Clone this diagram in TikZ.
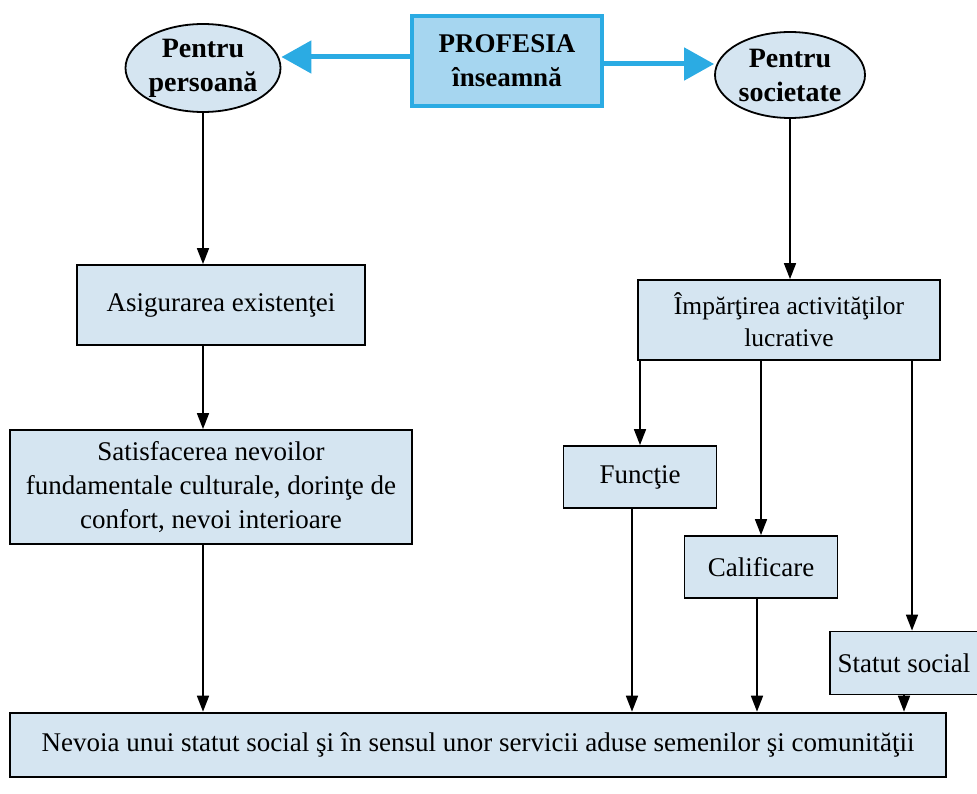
\documentclass[tikz,border=0pt]{standalone}
\usepackage{fontspec}
\setmainfont{Liberation Serif}
\usetikzlibrary{arrows.meta,shapes.geometric}
\definecolor{boxfill}{HTML}{D5E5F1}
\definecolor{profill}{HTML}{A6D6F0}
\definecolor{proline}{HTML}{2BABE3}
\begin{document}
\begin{tikzpicture}[x=1pt,y=-1pt,
  box/.style={draw=black,line width=1.8pt,fill=boxfill,align=center,inner sep=2pt,font=\fontsize{27}{34}\selectfont},
  ell/.style={ellipse,draw=black,line width=1.8pt,fill=boxfill,align=center,inner sep=0pt,font=\bfseries\fontsize{28}{34}\selectfont},
  arr/.style={line width=1.7pt,-{Triangle[length=16pt,width=12pt]}},
  carr/.style={line width=5pt,draw=proline,-{Triangle[length=30pt,width=32pt]}}]
\useasboundingbox (0,0) rectangle (977,794);
\node[ell,minimum width=155pt,minimum height=88pt] (pp) at (203,68) {Pentru\\persoană};
\node[draw=proline,line width=4.5pt,fill=profill,align=center,minimum width=190pt,minimum height=90pt,font=\bfseries\fontsize{27}{34}\selectfont] (prof) at (507,61) {PROFESIA\\înseamnă};
\node[ell,minimum width=150pt,minimum height=86pt] (ps) at (790,75) {Pentru\\societate};
\node[box,minimum width=288pt,minimum height=80pt] (asig) at (221,305) {Asigurarea existenţei};
\node[box,minimum width=402pt,minimum height=114pt] (sat) at (211,487) {Satisfacerea nevoilor\\fundamentale culturale, dorinţe de\\confort, nevoi interioare};
\node[box,minimum width=302pt,minimum height=80pt,font=\fontsize{25.5}{32}\selectfont] (imp) at (789,320) {Împărţirea activităţilor\\lucrative};
\node[box,minimum width=153pt,minimum height=62pt] (fun) at (640,477) {Funcţie};
\node[box,minimum width=153pt,minimum height=62pt] (cal) at (761,567) {Calificare};
\node[box,minimum width=148pt,minimum height=63pt] (sta) at (904,663) {Statut social};
\node[box,line width=2.6pt,minimum width=936pt,minimum height=64pt] (bot) at (478,745) {Nevoia unui statut social şi în sensul unor servicii aduse semenilor şi comunităţii};
% cyan arrows
\draw[carr] ([yshift=4pt]prof.west) -- ([yshift=4pt]pp.east |- prof.west);
\draw[carr] ([yshift=-3pt]prof.east) -- ([yshift=-3pt]ps.west |- prof.east);
% left column
\draw[arr] (pp.south) -- (asig.north -| pp.south);
\draw[arr] (asig.south -| pp.south) -- (sat.north -| pp.south);
\draw[arr] (sat.south -| pp.south) -- (bot.north -| pp.south);
% right column
\draw[arr] (ps.south) -- (imp.north -| ps.south);
\draw[arr] (imp.south -| fun.north) -- (fun.north);
\draw[arr] (imp.south -| cal.north) -- (cal.north);
\draw[arr] ([xshift=8pt]imp.south -| sta.north) -- ([xshift=8pt]sta.north);
\draw[arr] ([xshift=-8pt]fun.south) -- ([xshift=-8pt]bot.north -| fun.south);
\draw[arr] ([xshift=-4pt]cal.south) -- ([xshift=-4pt]bot.north -| cal.south);
\draw[arr] (sta.south) -- (bot.north -| sta.south);
\end{tikzpicture}
\end{document}
